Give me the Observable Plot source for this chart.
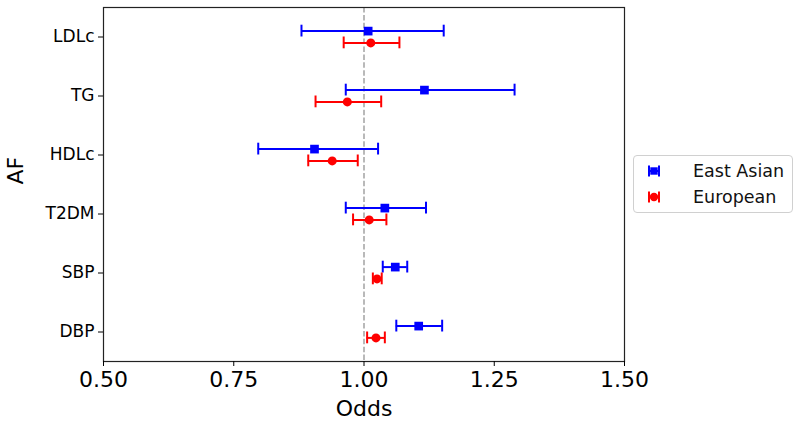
<!DOCTYPE html>
<html>
<head>
<meta charset="utf-8">
<script src="https://cdn.jsdelivr.net/npm/d3@7"></script>
<script src="https://cdn.jsdelivr.net/npm/@observablehq/plot@0.6"></script>
<style>
  body { margin: 0; background: white; font-family: "DejaVu Sans", sans-serif; }
  #wrap { position: relative; width: 800px; height: 424px; }
  #legend { position: absolute; left: 633px; top: 155px; width: 158px; height: 56px;
    border: 1px solid #d0d0d0; border-radius: 4px; background: white; box-sizing: content-box; }
  .row { position: absolute; left: 0; height: 24px; display: flex; align-items: center; }
  .row svg { position: absolute; left: 10px; }
  .row span { position: absolute; left: 59px; font-size: 17.5px; color: #111; white-space: nowrap; line-height: 24px; }
</style>
</head>
<body>
<div id="wrap"></div>
<script>
const categories = ["LDLc", "TG", "HDLc", "T2DM", "SBP", "DBP"];
const seriesNames = ["East Asian", "European"];
const eastAsianOR = [1.008, 1.116, 0.905, 1.040, 1.060, 1.105];
const eastAsianLo = [0.880, 0.965, 0.797, 0.965, 1.036, 1.062];
const eastAsianHi = [1.153, 1.289, 1.027, 1.119, 1.083, 1.150];
const europeanOR = [1.013, 0.968, 0.939, 1.010, 1.025, 1.023];
const europeanLo = [0.961, 0.907, 0.893, 0.979, 1.017, 1.006];
const europeanHi = [1.068, 1.033, 0.988, 1.043, 1.034, 1.040];
const xTicks = [0.5, 0.75, 1.0, 1.25, 1.5];

const colors = {"East Asian": "#0000ff", "European": "#ff0000"};
const offsets = {"East Asian": -0.1, "European": 0.1};
const symbols = {"East Asian": "square", "European": "circle"};

const rows = [];
categories.forEach((c, i) => {
  rows.push({cat: c, idx: i, series: "East Asian", or: eastAsianOR[i], lo: eastAsianLo[i], hi: eastAsianHi[i]});
  rows.push({cat: c, idx: i, series: "European", or: europeanOR[i], lo: europeanLo[i], hi: europeanHi[i]});
});
rows.forEach(d => { d.y = d.idx + offsets[d.series]; });
const cap = 0.1;

const chart = Plot.plot({
  width: 800,
  height: 424,
  marginLeft: 103,
  marginRight: 176,
  marginTop: 7,
  marginBottom: 63,
  style: {background: "white", fontFamily: "DejaVu Sans, sans-serif", color: "black"},
  x: {domain: [0.5, 1.5]},
  y: {domain: [5.5, -0.5]},
  marks: [
    Plot.ruleX([1], {stroke: "#a8a8a8", strokeWidth: 1.6, strokeDasharray: "5.5,2.4"}),
    Plot.ruleY(rows, {y: "y", x1: "lo", x2: "hi", stroke: d => colors[d.series], strokeWidth: 2}),
    Plot.ruleX(rows, {x: "lo", y1: d => d.y - cap, y2: d => d.y + cap, stroke: d => colors[d.series], strokeWidth: 2}),
    Plot.ruleX(rows, {x: "hi", y1: d => d.y - cap, y2: d => d.y + cap, stroke: d => colors[d.series], strokeWidth: 2}),
    Plot.dot(rows.filter(d => d.series === "East Asian"), {x: "or", y: "y", symbol: "square", r: 4.9, fill: colors["East Asian"], stroke: "none"}),
    Plot.dot(rows.filter(d => d.series === "European"), {x: "or", y: "y", symbol: "circle", r: 4.5, fill: colors["European"], stroke: "none"}),
    Plot.frame({stroke: "#222", strokeWidth: 1.2}),
    Plot.axisX({ticks: xTicks, tickFormat: d3.format(".2f"), fontSize: 22, tickSize: 5, tickPadding: 5, label: null}),
    Plot.axisY({ticks: d3.range(categories.length), tickFormat: i => categories[i], fontSize: 17, tickSize: 5, tickPadding: 4, label: null}),
    Plot.text(["Odds"], {frameAnchor: "bottom", lineAnchor: "middle", dy: 47, fontSize: 22, fill: "black"}),
    Plot.text(["AF"], {frameAnchor: "left", dx: -88, rotate: -90, fontSize: 22, fill: "black"})
  ]
});
document.getElementById("wrap").appendChild(chart);

// legend
const legend = document.createElement("div");
legend.id = "legend";
seriesNames.forEach((name, k) => {
  const row = document.createElement("div");
  row.className = "row";
  row.style.top = (k === 0 ? 3 : 29) + "px";
  const col = colors[name];
  const mk = symbols[name] === "square"
    ? `<rect x="6.3" y="8.3" width="7.4" height="7.4" fill="${col}"/>`
    : `<circle cx="10" cy="12" r="4.2" fill="${col}"/>`;
  row.innerHTML = `<svg width="20" height="24">
      <line x1="4.5" y1="12" x2="15.5" y2="12" stroke="${col}" stroke-width="2"/>
      <line x1="5" y1="6.5" x2="5" y2="17.5" stroke="${col}" stroke-width="2"/>
      <line x1="15" y1="6.5" x2="15" y2="17.5" stroke="${col}" stroke-width="2"/>
      ${mk}</svg><span>${name}</span>`;
  legend.appendChild(row);
});
document.getElementById("wrap").appendChild(legend);
</script>
</body>
</html>
